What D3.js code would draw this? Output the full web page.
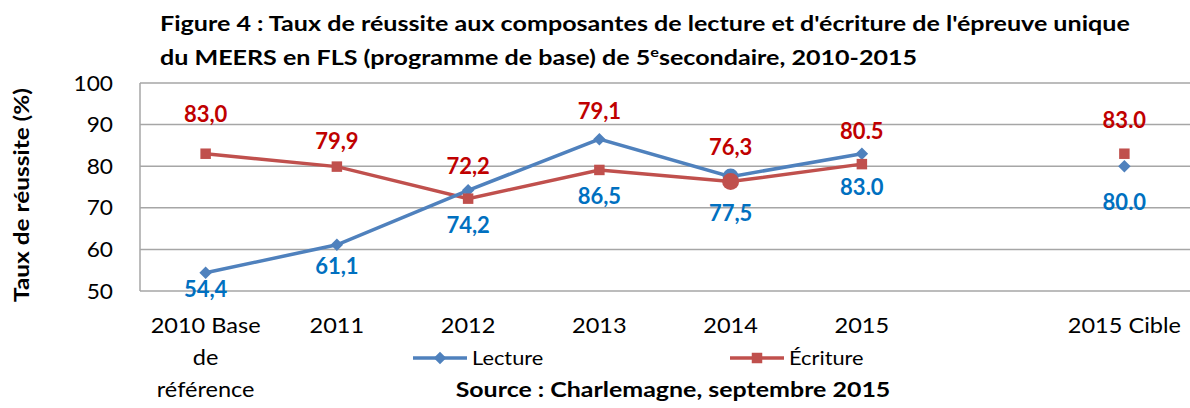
<!DOCTYPE html>
<html>
<head>
<meta charset="utf-8">
<script src="https://cdn.jsdelivr.net/npm/d3@7"></script>
<style>
  body { margin: 0; background: #fff; }
  svg text { font-family: Lato, "Open Sans", sans-serif; }
</style>
</head>
<body>
<div id="chart"></div>
<script>
// categories (the empty one is the gap before the target)
var categories = ["2010", "2011", "2012", "2013", "2014", "2015", "gap", "2015 Cible"];
var categoryLabels = [["2010 Base", "de", "référence"], ["2011"], ["2012"], ["2013"], ["2014"], ["2015"], [], ["2015 Cible"]];
var lecture = [54.4, 61.1, 74.2, 86.5, 77.5, 83.0, null, 80.0];
var ecriture = [83.0, 79.9, 72.2, 79.1, 76.3, 80.5, null, 83.0];
var lectureLabels = ["54,4", "61,1", "74,2", "86,5", "77,5", "83.0", null, "80.0"];
var ecritureLabels = ["83,0", "79,9", "72,2", "79,1", "76,3", "80.5", null, "83.0"];
var yTicks = [50, 60, 70, 80, 90, 100];

var width = 1190, height = 408;
var margin = {top: 83, right: 0, bottom: 117, left: 140};

var svg = d3.select("#chart").append("svg")
    .attr("width", width)
    .attr("height", height);

var x = d3.scaleBand()
    .domain(categories)
    .range([margin.left, width - margin.right]);

var y = d3.scaleLinear()
    .domain([50, 100])
    .range([height - margin.bottom, margin.top]);

var blue = "#4F81BD", red = "#C0504D";
var blueText = "#0070C0", redText = "#C00000";

function cx(i) { return x(categories[i]) + x.bandwidth() / 2; }

// the source picture is a little wider than tall, stretch text to match
function stretch(sel, k) {
    sel.each(function(){
        var w = this.getComputedTextLength();
        d3.select(this).attr("textLength", w * k).attr("lengthAdjust", "spacingAndGlyphs");
    });
    return sel;
}

// gridlines
svg.append("g")
    .selectAll("line")
    .data(yTicks)
    .enter().append("line")
    .attr("x1", margin.left)
    .attr("x2", width - margin.right)
    .attr("y1", function(d){ return y(d); })
    .attr("y2", function(d){ return y(d); })
    .attr("stroke", "#a6a6a6")
    .attr("stroke-width", 1.5);

// y axis line
svg.append("line")
    .attr("x1", margin.left).attr("x2", margin.left)
    .attr("y1", y(100)).attr("y2", y(50))
    .attr("stroke", "#a6a6a6")
    .attr("stroke-width", 1.5);

// y tick labels
stretch(svg.append("g")
    .selectAll("text")
    .data(yTicks)
    .enter().append("text")
    .attr("x", 113)
    .attr("y", function(d){ return y(d); })
    .attr("dy", "0.36em")
    .attr("text-anchor", "end")
    .attr("font-size", 21)
    .attr("fill", "#000")
    .text(function(d){ return d; }), 1.08);

// y axis title
svg.append("text")
    .attr("transform", "translate(29," + 195 + ") rotate(-90)")
    .attr("text-anchor", "middle")
    .attr("font-size", 20)
    .attr("font-weight", "bold")
    .attr("textLength", 214)
    .attr("lengthAdjust", "spacingAndGlyphs")
    .text("Taux de réussite (%)");

// x labels
categoryLabels.forEach(function(lines, i){
    lines.forEach(function(t, j){
        stretch(svg.append("text")
            .attr("x", cx(i))
            .attr("y", 333 + j * 32)
            .attr("text-anchor", "middle")
            .attr("font-size", 21)
            .text(t), 1.12);
    });
});

// lines (break at the gap)
var line = d3.line()
    .defined(function(d){ return d.v != null; })
    .x(function(d){ return cx(d.i); })
    .y(function(d){ return y(d.v); });

function seriesData(arr) {
    return arr.map(function(v, i){ return {i: i, v: v}; }).filter(function(d){ return d.i < 6; });
}

svg.append("path")
    .datum(seriesData(ecriture))
    .attr("d", line)
    .attr("fill", "none")
    .attr("stroke", red)
    .attr("stroke-width", 3.5);

svg.append("path")
    .datum(seriesData(lecture))
    .attr("d", line)
    .attr("fill", "none")
    .attr("stroke", blue)
    .attr("stroke-width", 3.5);

// markers
var diamond = d3.symbol().type(d3.symbolDiamond2).size(100);
var square = d3.symbol().type(d3.symbolSquare).size(110);

lecture.forEach(function(v, i){
    if (v == null) return;
    if (categories[i] == "2014") {
        svg.append("circle").attr("cx", cx(i)).attr("cy", y(v)).attr("r", 8).attr("fill", blue);
    } else {
        svg.append("path").attr("d", diamond).attr("transform", "translate(" + cx(i) + "," + y(v) + ")").attr("fill", blue);
    }
});
ecriture.forEach(function(v, i){
    if (v == null) return;
    if (categories[i] == "2014") {
        svg.append("circle").attr("cx", cx(i)).attr("cy", y(v)).attr("r", 8.5).attr("fill", red);
    } else {
        svg.append("path").attr("d", square).attr("transform", "translate(" + cx(i) + "," + y(v) + ")").attr("fill", red);
    }
});

// data labels
var ecritureOffset = [-39, -25, -32, -59, -34, -33, 0, -33];
var lectureOffset = [17, 21, 35, 57, 37, 34, 0, 36];

ecritureLabels.forEach(function(t, i){
    if (t == null) return;
    svg.append("text")
        .attr("x", cx(i))
        .attr("y", y(ecriture[i]) + ecritureOffset[i])
        .attr("dy", "0.35em")
        .attr("text-anchor", "middle")
        .attr("font-size", 22)
        .attr("font-weight", "bold")
        .attr("fill", redText)
        .text(t);
});
lectureLabels.forEach(function(t, i){
    if (t == null) return;
    svg.append("text")
        .attr("x", cx(i))
        .attr("y", y(lecture[i]) + lectureOffset[i])
        .attr("dy", "0.35em")
        .attr("text-anchor", "middle")
        .attr("font-size", 22)
        .attr("font-weight", "bold")
        .attr("fill", blueText)
        .text(t);
});

// title
var title = svg.append("g").attr("font-weight", "bold").attr("font-size", 20);
stretch(title.append("text")
    .attr("x", 160).attr("y", 31)
    .text("Figure 4 : Taux de réussite aux composantes de lecture et d'écriture de l'épreuve unique"), 1.254);
var t2 = title.append("text")
    .attr("x", 160).attr("y", 65)
    .attr("transform", "translate(160,0) scale(1.254,1) translate(-160,0)");
t2.append("tspan").text("du MEERS en FLS (programme de base) de 5");
t2.append("tspan").attr("font-size", 13).attr("dy", -8).text("e");
t2.append("tspan").attr("dy", 8).text("secondaire, 2010-2015");

// legend
var legend = [
    {name: "Lecture", color: blue, sym: diamond, x: 413},
    {name: "Écriture", color: red, sym: square, x: 730}
];
legend.forEach(function(l){
    svg.append("line")
        .attr("x1", l.x).attr("x2", l.x + 54)
        .attr("y1", 358).attr("y2", 358)
        .attr("stroke", l.color).attr("stroke-width", 3.5);
    svg.append("path").attr("d", l.sym)
        .attr("transform", "translate(" + (l.x + 27) + ",358)")
        .attr("fill", l.color);
    stretch(svg.append("text")
        .attr("x", l.x + 59).attr("y", 358)
        .attr("dy", "0.36em")
        .attr("font-size", 20)
        .text(l.name), 1.09);
});

// source
stretch(svg.append("text")
    .attr("x", 673).attr("y", 397)
    .attr("text-anchor", "middle")
    .attr("font-size", 20)
    .attr("font-weight", "bold")
    .text("Source : Charlemagne, septembre 2015"), 1.247);
</script>
</body>
</html>
